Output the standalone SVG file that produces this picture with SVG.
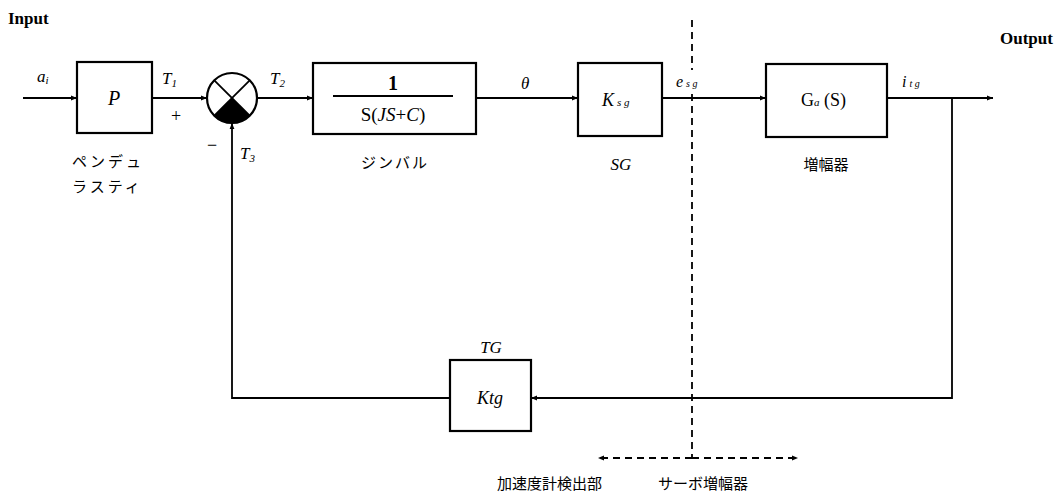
<svg xmlns="http://www.w3.org/2000/svg" width="1063" height="497" viewBox="0 0 1063 497">
<style>
.box{fill:#fff;stroke:#000;stroke-width:2.2}
.ln{fill:none;stroke:#000;stroke-width:1.8}
.dash{fill:none;stroke:#000;stroke-width:1.8;stroke-dasharray:7,5}
.t{font-family:"Liberation Serif",serif;fill:#000}
.it{font-family:"Liberation Serif",serif;font-style:italic;fill:#000}
.b{font-family:"Liberation Serif",serif;font-weight:bold;fill:#000}
.jp{font-family:"Noto Sans CJK JP",sans-serif;fill:#000}
</style>
<defs>
<marker id="ah" viewBox="0 0 10 10" refX="10" refY="5" markerWidth="9" markerHeight="6" markerUnits="userSpaceOnUse" orient="auto">
<path d="M0,1 L10,5 L0,9 Z" fill="#000"/>
</marker>
</defs>
<text class="b" x="8" y="24" font-size="17">Input</text>
<text class="b" x="1000" y="44" font-size="17">Output</text>
<g id="connectors">
<line class="ln" x1="23" y1="98" x2="77" y2="98" marker-end="url(#ah)"/>
<line class="ln" x1="152" y1="98" x2="207" y2="98" marker-end="url(#ah)"/>
<line class="ln" x1="257" y1="98" x2="313" y2="98" marker-end="url(#ah)"/>
<line class="ln" x1="476" y1="98" x2="578" y2="98" marker-end="url(#ah)"/>
<line class="ln" x1="662" y1="98" x2="766" y2="98" marker-end="url(#ah)"/>
<line class="ln" x1="887" y1="98" x2="993" y2="98" marker-end="url(#ah)"/>
<polyline class="ln" points="952,98 952,398 531,398" marker-end="url(#ah)"/>
<polyline class="ln" points="450,398 232,398 232,123" marker-end="url(#ah)"/>
<line class="dash" x1="692" y1="20" x2="692" y2="70"/>
<line class="dash" x1="692" y1="94" x2="692" y2="458"/>
<line class="dash" x1="692" y1="458" x2="598" y2="458" marker-end="url(#ah)"/>
<line class="dash" x1="692" y1="458" x2="798" y2="458" marker-end="url(#ah)"/>
</g>
<g id="P">
<rect class="box" x="77" y="62" width="75" height="71"/>
<text class="it" x="114" y="105" font-size="20" text-anchor="middle">P</text>
<text class="jp" x="72" y="167" font-size="15" letter-spacing="3">ペンデュ</text>
<text class="jp" x="72" y="192" font-size="15" letter-spacing="3">ラスティ</text>
</g>
<g id="sum">
<circle cx="232" cy="98" r="25" fill="#fff" stroke="#000" stroke-width="2.2"/>
<path d="M232,98 L249.7,115.7 A25,25 0 0 1 214.3,115.7 Z" fill="#000"/>
<line class="ln" x1="214.3" y1="80.3" x2="249.7" y2="115.7"/>
<line class="ln" x1="249.7" y1="80.3" x2="214.3" y2="115.7"/>
</g>
<g id="gimbal">
<rect class="box" x="313" y="63" width="163" height="71"/>
<text class="b" x="393" y="90" font-size="20" text-anchor="middle">1</text>
<line x1="333" y1="96" x2="453" y2="96" stroke="#000" stroke-width="2"/>
<text class="t" x="393" y="121" font-size="19" text-anchor="middle">S(<tspan font-style="italic">JS</tspan>+<tspan font-style="italic">C</tspan>)</text>
<text class="jp" x="395" y="168" font-size="15" text-anchor="middle" letter-spacing="2">ジンバル</text>
</g>
<g id="SG">
<rect class="box" x="578" y="63" width="84" height="73"/>
<text class="it" x="602" y="106" font-size="18">K<tspan font-size="11" dx="3">s g</tspan></text>
<text class="it" x="621" y="170" font-size="17" text-anchor="middle">SG</text>
</g>
<g id="amp">
<rect class="box" x="766" y="64" width="121" height="73"/>
<text class="t" x="801" y="106" font-size="18">G<tspan font-size="11" font-style="italic">a</tspan> (S)</text>
<text class="jp" x="826" y="170" font-size="15" text-anchor="middle">増幅器</text>
</g>
<g id="TG">
<rect class="box" x="450" y="360" width="81" height="71"/>
<text class="it" x="490" y="404" font-size="18" text-anchor="middle">Ktg</text>
<text class="it" x="491" y="353" font-size="17" text-anchor="middle">TG</text>
</g>
<g id="labels">
<text class="it" x="37" y="82" font-size="17">a<tspan font-size="11" dy="2">i</tspan></text>
<text class="it" x="162" y="84" font-size="17">T<tspan font-size="11" dy="3">1</tspan></text>
<text class="t" x="171" y="122" font-size="18">+</text>
<text class="t" x="207" y="151" font-size="18">−</text>
<text class="it" x="240" y="159" font-size="17">T<tspan font-size="11" dy="3">3</tspan></text>
<text class="it" x="270" y="84" font-size="17">T<tspan font-size="11" dy="3">2</tspan></text>
<text class="it" x="521" y="89" font-size="17">θ</text>
<text class="it" x="676" y="87" font-size="16">e<tspan font-size="10" dx="3">s g</tspan></text>
<text class="it" x="902" y="87" font-size="16">i<tspan font-size="10" dx="3">t g</tspan></text>
<text class="jp" x="497" y="489" font-size="15">加速度計検出部</text>
<text class="jp" x="658" y="489" font-size="15">サーボ増幅器</text>
</g>
</svg>
